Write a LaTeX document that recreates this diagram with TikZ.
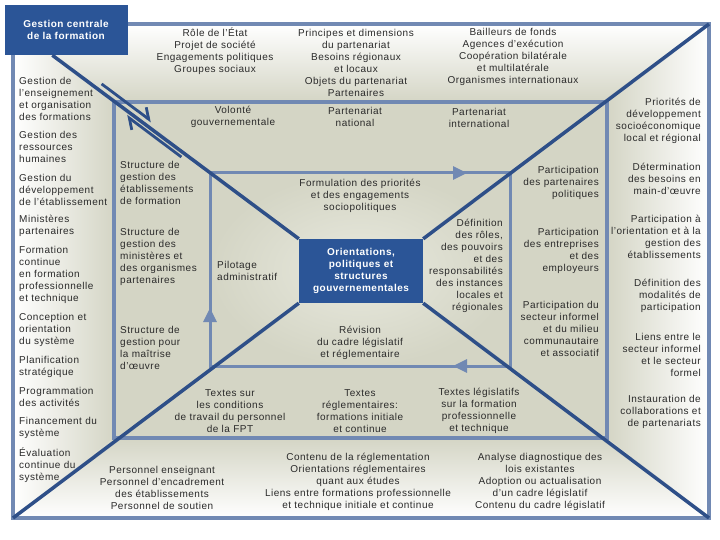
\documentclass[tikz,border=0pt]{standalone}
\usepackage{fontspec}
\setmainfont{Liberation Sans}[LetterSpace=5]
\usetikzlibrary{arrows.meta}
\definecolor{edgeblue}{HTML}{7189B3}
\definecolor{darkblue}{HTML}{2E4F88}
\definecolor{boxblue}{HTML}{2B5597}
\definecolor{bgmid}{HTML}{D4D5C5}
\definecolor{bglight}{HTML}{E8E9DE}
\definecolor{txtgrey}{HTML}{2A2A2A}
\begin{document}
\begin{tikzpicture}[x=1pt,y=-1pt,
  frame/.style={draw=edgeblue,line width=3.5pt},
  diag/.style={draw=darkblue,line width=3.5pt},
  harp/.style={draw=darkblue,line width=2.8pt},
  cyc/.style={draw=edgeblue,line width=3pt,-{Triangle[length=14pt,width=13pt]}},
  lbl/.style={font=\fontsize{10}{12}\selectfont,text=txtgrey,inner sep=0pt},
  lft/.style={lbl,anchor=west,align=left},
  rgt/.style={lbl,anchor=east,align=right},
  mid/.style={lbl,align=center},
  darkbox/.style={fill=boxblue,text=white,inner sep=0pt,align=center,
    font=\fontsize{10}{12}\selectfont\bfseries}]
\useasboundingbox (0,0) rectangle (720,540);
\fill[white] (0,0) rectangle (720,540);

\coordinate (onw) at (13,24);   \coordinate (ose) at (709,518);
\coordinate (osw) at (13,518);  \coordinate (one) at (709,24);
\coordinate (mnw) at (114,102); \coordinate (mse) at (607,438);
\coordinate (msw) at (114,438); \coordinate (mne) at (607,102);
\coordinate (inw) at (210,173); \coordinate (ise) at (510,366);

\shade[left color=white,right color=bgmid] (onw) -- (mnw) -- (msw) -- (osw) -- cycle;
\shade[right color=white,left color=bgmid] (one) -- (mne) -- (mse) -- (ose) -- cycle;
\shade[top color=white,bottom color=bgmid] (onw) -- (one) -- (mne) -- (mnw) -- cycle;
\shade[bottom color=white,top color=bgmid] (osw) -- (ose) -- (mse) -- (msw) -- cycle;
\fill[bgmid] (mnw) rectangle (mse);
\shade[inner color=bglight,outer color=bgmid] (inw) rectangle (ise);

\draw[frame] (onw) rectangle (ose);
\draw[frame] (mnw) rectangle (mse);
\draw[frame,line width=3pt] (inw) rectangle (ise);

\node[darkbox,minimum width=123,minimum height=50] (gc) at (66,30) {Gestion centrale\\de la formation};
\node[darkbox,minimum width=124,minimum height=64] (ogs) at (361,271) {Orientations,\\politiques et\\structures\\gouvernementales};

\draw[diag] ([xshift=48pt]gc.south west) -- (ogs.north west);
\draw[diag] (ogs.south east) -- (ose);
\draw[diag] (osw) -- (ogs.south west);
\draw[diag] (ogs.north east) -- (one);

\draw[harp,-{Straight Barb[left,length=9pt,width=16pt]}] (101.6,83.9) -- (151.6,121.3);
\draw[harp,{Straight Barb[left,length=9pt,width=16pt]}-] (126.4,115.9) -- (181.4,157);

\draw[cyc] (445,173) -- (467,173);
\draw[cyc] (475,366) -- (453,366);
\draw[cyc] (210,330) -- (210,308);

\node[lft] (g1) at (19,99) {Gestion de\\l'enseignement\\et organisation\\des formations};
\node[lft] (g2) at (19,147) {Gestion des\\ressources\\humaines};
\node[lft] (g3) at (19,190) {Gestion du\\développement\\de l'établissement};
\node[lft] (g4) at (19,226) {Ministères\\partenaires};
\node[lft] (g5) at (19,275) {Formation\\continue\\en formation\\professionnelle\\et technique};
\node[lft] (g6) at (19,330) {Conception et\\orientation\\du système};
\node[lft] (g7) at (19,367) {Planification\\stratégique};
\node[lft] (g8) at (19,397) {Programmation\\des activités};
\node[lft] (g9) at (19,428) {Financement du\\système};
\node[lft] (g10) at (19,465) {Évaluation\\continue du\\système};

\node[lft] (s1) at (120,183) {Structure de\\gestion des\\établissements\\de formation};
\node[lft] (s2) at (120,257) {Structure de\\gestion des\\ministères et\\des organismes\\partenaires};
\node[lft] (s3) at (120,348) {Structure de\\gestion pour\\la maîtrise\\d'œuvre};
\node[lft] (pil) at (217,271) {Pilotage\\administratif};

\node[mid] (t1) at (215,51) {Rôle de l'État\\Projet de société\\Engagements politiques\\Groupes sociaux};
\node[mid] (t2) at (356,63) {Principes et dimensions\\du partenariat\\Besoins régionaux\\et locaux\\Objets du partenariat\\Partenaires};
\node[mid] (t3) at (513,57) {Bailleurs de fonds\\Agences d'exécution\\Coopération bilatérale\\et multilatérale\\Organismes internationaux};

\node[mid] (v1) at (233,117) {Volonté\\gouvernementale};
\node[mid] (v2) at (355,117) {Partenariat\\national};
\node[mid] (v3) at (479,118) {Partenariat\\international};

\node[mid] (form) at (360,196) {Formulation des priorités\\et des engagements\\sociopolitiques};
\node[mid] (rev) at (360,343) {Révision\\du cadre législatif\\et réglementaire};
\node[rgt] (def) at (503,266) {Définition\\des rôles,\\des pouvoirs\\et des\\responsabilités\\des instances\\locales et\\régionales};

\node[rgt] (p1) at (599,183) {Participation\\des partenaires\\politiques};
\node[rgt] (p2) at (599,251) {Participation\\des entreprises\\et des\\employeurs};
\node[rgt] (p3) at (599,329) {Participation du\\secteur informel\\et du milieu\\communautaire\\et associatif};

\node[rgt] (r1) at (701,121) {Priorités de\\développement\\socioéconomique\\local et régional};
\node[rgt] (r2) at (701,179) {Détermination\\des besoins en\\main-d'œuvre};
\node[rgt] (r3) at (701,237) {Participation à\\l'orientation et à la\\gestion des\\établissements};
\node[rgt] (r4) at (701,296) {Définition des\\modalités de\\participation};
\node[rgt] (r5) at (701,355) {Liens entre le\\secteur informel\\et le secteur\\formel};
\node[rgt] (r6) at (701,412) {Instauration de\\collaborations et\\de partenariats};

\node[mid] (x1) at (230,411) {Textes sur\\les conditions\\de travail du personnel\\de la FPT};
\node[mid] (x2) at (360,411) {Textes\\réglementaires:\\formations initiale\\et continue};
\node[mid] (x3) at (479,411) {Textes législatifs\\sur la formation\\professionnelle\\et technique};

\node[mid] (b1) at (162,488) {Personnel enseignant\\Personnel d'encadrement\\des établissements\\Personnel de soutien};
\node[mid] (b2) at (358,482) {Contenu de la réglementation\\Orientations réglementaires\\quant aux études\\Liens entre formations professionnelle\\et technique initiale et continue};
\node[mid] (b3) at (540,482) {Analyse diagnostique des\\lois existantes\\Adoption ou actualisation\\d'un cadre législatif\\Contenu du cadre législatif};
\end{tikzpicture}
\end{document}
